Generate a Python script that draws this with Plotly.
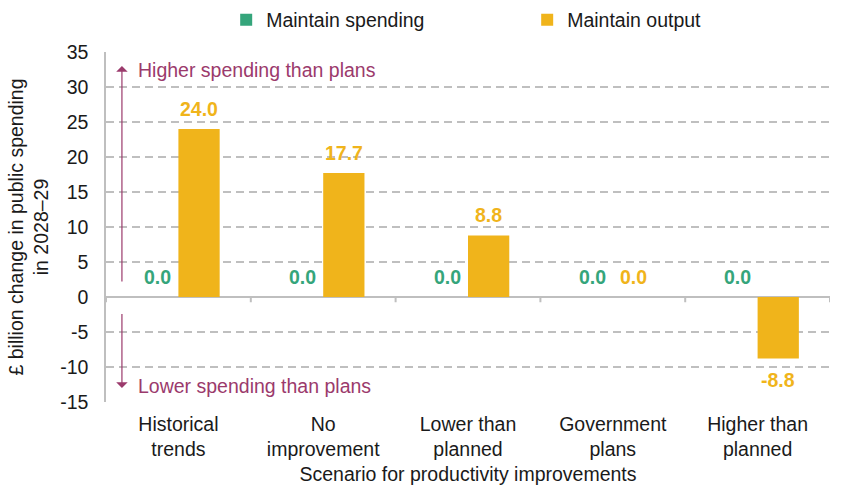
import plotly.graph_objects as go

categories = ["Historical<br>trends", "No<br>improvement", "Lower than<br>planned", "Government<br>plans", "Higher than<br>planned"]
maintain_spending = [0.0, 0.0, 0.0, 0.0, 0.0]
maintain_output = [24.0, 17.7, 8.8, 0.0, -8.8]
y_ticks = [-15, -10, -5, 0, 5, 10, 15, 20, 25, 30, 35]

GREEN = "#35A57B"
YELLOW = "#F0B41B"
PURPLE = "#9B3A6C"
FONT = "Liberation Sans, Arial, sans-serif"
FS = 19.5

fig = go.Figure()
fig.add_trace(go.Bar(
    x=categories, y=maintain_spending, name="Maintain spending",
    marker=dict(color=GREEN, line=dict(width=0)),
))
fig.add_trace(go.Bar(
    x=categories, y=maintain_output, name="Maintain output",
    marker=dict(color=YELLOW, line=dict(width=0)),
))

# data labels
BAR_HALF = 20.5
for series, color, sign in [(maintain_spending, GREEN, -1), (maintain_output, YELLOW, 1)]:
    for cat, v in zip(categories, series):
        fig.add_annotation(x=cat, y=v, xref="x", yref="y", text=f"<b>{v:.1f}</b>",
                           showarrow=False, xanchor="center", yanchor="middle",
                           xshift=sign * BAR_HALF, yshift=(20 if v >= 0 else -21),
                           font=dict(color=color, size=FS, family=FONT))

# category boundary tick marks on zero line
for k in range(len(categories) + 1):
    fig.add_shape(type="line", xref="x", yref="y", x0=k - 0.5, x1=k - 0.5, y0=0, y1=-0.75,
                  line=dict(color="#BFBFBF", width=2))

# direction arrows
fig.add_annotation(x=-0.39, y=33.0, ax=-0.39, ay=2.0, xref="x", yref="y", axref="x", ayref="y",
                   showarrow=True, arrowhead=1, arrowsize=1.6, arrowwidth=1.2, arrowcolor=PURPLE, text="")
fig.add_annotation(x=-0.39, y=-13.0, ax=-0.39, ay=-2.2, xref="x", yref="y", axref="x", ayref="y",
                   showarrow=True, arrowhead=1, arrowsize=1.6, arrowwidth=1.2, arrowcolor=PURPLE, text="")
fig.add_annotation(x=-0.29, y=32.4, xref="x", yref="y", text="Higher spending than plans",
                   showarrow=False, xanchor="left", yanchor="middle",
                   font=dict(color=PURPLE, size=FS, family=FONT))
fig.add_annotation(x=-0.29, y=-12.7, xref="x", yref="y", text="Lower spending than plans",
                   showarrow=False, xanchor="left", yanchor="middle",
                   font=dict(color=PURPLE, size=FS, family=FONT))

fig.update_layout(
    width=848, height=495,
    margin=dict(l=106, r=18, t=52, b=93, autoexpand=False),
    paper_bgcolor="white", plot_bgcolor="white",
    font=dict(family=FONT, size=FS, color="#1A1A1A"),
    barmode="group", bargap=0.43, bargroupgap=0,
    showlegend=True,
    legend=dict(orientation="h", x=0.166, xanchor="left", y=1.091, yanchor="middle",
                font=dict(size=FS, family=FONT), entrywidth=256,
                traceorder="normal", itemwidth=30),
    xaxis=dict(showline=False, ticks="", showgrid=False, tickfont=dict(size=FS),
               automargin=False, ticklabelstandoff=8,
               title=dict(text="Scenario for productivity improvements", font=dict(size=FS), standoff=8),
               range=[-0.5, 4.5]),
    yaxis=dict(range=[-15, 35], tickvals=y_ticks, ticktext=[str(v) for v in y_ticks],
               showgrid=True, gridcolor="#BFBFBF", griddash="8px,5px", gridwidth=1.5,
               zeroline=True, zerolinecolor="#BFBFBF", zerolinewidth=2,
               showline=True, linecolor="#BFBFBF", linewidth=1.5,
               ticks="", ticklabelstandoff=12, tickfont=dict(size=FS),
               automargin=False,
               title=dict(text="£ billion change in public spending<br>in 2028–29", font=dict(size=FS), standoff=6)),
)

fig.write_html("out.html")
